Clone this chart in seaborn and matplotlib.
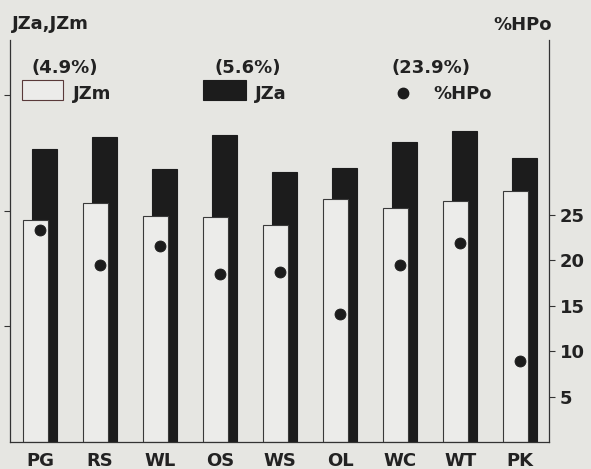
import numpy as np
import pandas as pd
import matplotlib
matplotlib.use("Agg")
import matplotlib.pyplot as plt
from matplotlib.patches import Rectangle
import seaborn as sns

categories = ["PG", "RS", "WL", "OS", "WS", "OL", "WC", "WT", "PK"]
jzm = [1.92, 2.07, 1.96, 1.95, 1.88, 2.10, 2.03, 2.09, 2.17]
jza = [2.54, 2.64, 2.36, 2.66, 2.34, 2.37, 2.60, 2.69, 2.46]
hpo = [23.3, 19.5, 21.5, 18.5, 18.7, 14.1, 19.5, 21.9, 8.9]
hpo_ticks = [5, 10, 15, 20, 25]
legend_pcts = ["(4.9%)", "(5.6%)", "(23.9%)"]

BG = "#e6e6e2"
DARK = "#1c1c1c"
W, H = 591, 469

sns.set_theme(style="white")
plt.rcParams["font.family"] = ["DejaVu Sans"]
plt.rcParams["font.weight"] = "bold"

fig = plt.figure(figsize=(W / 100, H / 100), dpi=100, facecolor=BG)
ax = fig.add_axes([10 / W, (H - 442) / H, (549 - 10) / W, (442 - 40) / H])
ax.set_facecolor(BG)

idx = np.arange(len(categories))
off = 0.075
df_a = pd.DataFrame({"x": idx + off, "v": jza})
df_m = pd.DataFrame({"x": idx - off, "v": jzm})

sns.barplot(data=df_a, x="x", y="v", native_scale=True, width=0.425,
            color=DARK, saturation=1, edgecolor=DARK, linewidth=0.8, ax=ax, errorbar=None)
sns.barplot(data=df_m, x="x", y="v", native_scale=True, width=0.425,
            color="#ececea", saturation=1, edgecolor="#3a3a3a", linewidth=0.8, ax=ax, errorbar=None)

ax.set_xlim(-0.5, 8.48)
ax.set_ylim(0, 3.48)
ax.set_xticks(idx)
ax.set_xticklabels(categories, fontsize=13, fontweight="bold", color="#222222")
ax.set_yticks([1, 2, 3])
ax.set_yticklabels([])
ax.tick_params(axis="y", which="both", left=True, length=4, width=0.8, color="#333333")
ax.tick_params(axis="x", bottom=False, length=0, pad=7)
ax.set_xlabel("")
ax.set_ylabel("")
for s in ["left", "bottom"]:
    ax.spines[s].set_color("#333333")
    ax.spines[s].set_linewidth(0.9)
ax.spines["top"].set_visible(False)
ax.spines["right"].set_visible(False)

ax2 = ax.twinx()
df_h = pd.DataFrame({"x": idx, "h": hpo})
sns.scatterplot(data=df_h, x="x", y="h", s=62, color=DARK, edgecolor=DARK, ax=ax2, zorder=5)
ax2.set_ylim(0, 44.2)
ax2.set_xlim(-0.5, 8.48)
ax2.set_yticks(hpo_ticks)
ax2.set_yticklabels([str(t) for t in hpo_ticks], fontsize=13, fontweight="bold", color="#222222")
ax2.tick_params(axis="y", right=True, length=4, width=0.8, color="#333333", pad=4)
ax2.set_ylabel("")
ax2.set_xlabel("")
for s in ["top", "left", "bottom"]:
    ax2.spines[s].set_visible(False)
ax2.spines["right"].set_color("#333333")
ax2.spines["right"].set_linewidth(0.9)

def ft(x, y, s, ha="left", **kw):
    fig.text(x / W, 1 - y / H, s, ha=ha, va="center", fontsize=13, fontweight="bold",
             color="#222222", **kw)

ft(12, 24, "JZa,JZm")
ft(552, 25, "%HPo", ha="right")

ft(65, 68, legend_pcts[0], ha="center")
ft(248, 68, legend_pcts[1], ha="center")
ft(431, 68, legend_pcts[2], ha="center")

fig.patches.append(Rectangle((22 / W, 1 - 100 / H), 41 / W, 20 / H, transform=fig.transFigure,
                             facecolor="#ececea", edgecolor="#5a3a3a", linewidth=0.8))
ft(73, 94, "JZm")
fig.patches.append(Rectangle((203 / W, 1 - 100 / H), 43 / W, 20 / H, transform=fig.transFigure,
                             facecolor=DARK, edgecolor=DARK, linewidth=0.8))
ft(255, 94, "JZa")
fig.lines.append(plt.Line2D([403 / W], [1 - 93 / H], transform=fig.transFigure, marker="o",
                            markersize=7.5, color=DARK, linestyle="none"))
ft(433, 94, "%HPo")

fig.savefig("out.png", dpi=100, facecolor=BG)
